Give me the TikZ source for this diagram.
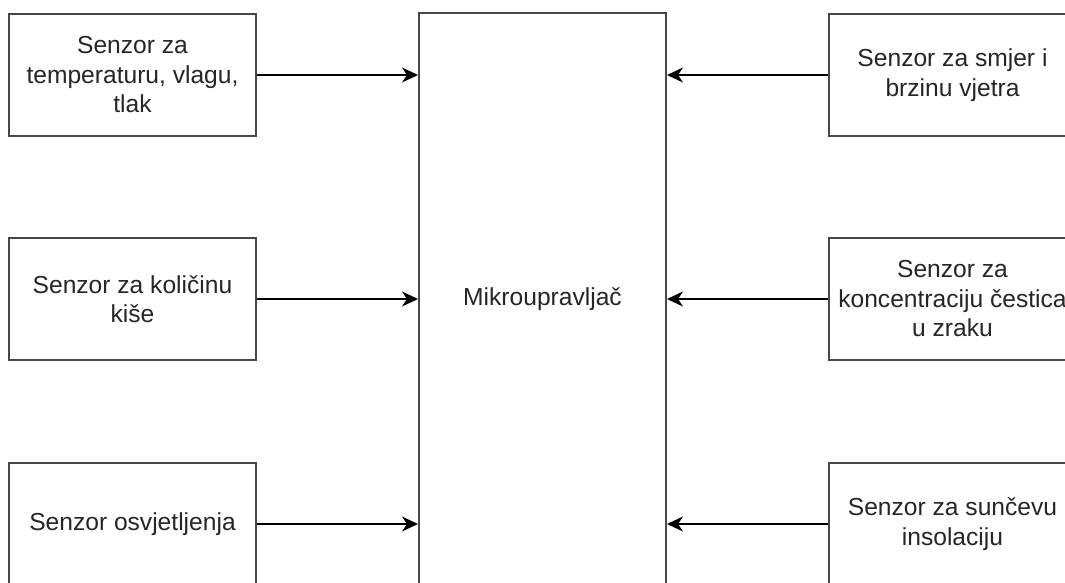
\documentclass[tikz,border=0pt]{standalone}
\usepackage{fontspec}
\setmainfont{Liberation Sans}
\usetikzlibrary{arrows.meta}
\begin{document}
\begin{tikzpicture}[x=1pt,y=-1pt,
  box/.style={draw=black!72,line width=2pt,fill=white,minimum width=247pt,minimum height=122pt,inner sep=0pt,align=center,text=black!85,font=\fontsize{24.6}{29.5}\selectfont},
  arr/.style={draw=black,line width=1.6pt,-{Stealth[length=16pt,width=15pt,inset=5pt]}}]
\useasboundingbox (0,0) rectangle (1065,583);
\clip (0,0) rectangle (1065,583);
\node[box] (l1) at (132.5,75) {Senzor za\\temperaturu, vlagu,\\tlak};
\node[box] (l2) at (132.5,299) {Senzor za količinu\\kiše};
\node[box] (l3) at (132.5,524) {Senzor osvjetljenja};
\node[box,minimum height=573pt] (mc) at (542.5,299.5) {Mikroupravljač};
\node[box] (r1) at (952.5,75) {Senzor za smjer i\\brzinu vjetra};
\node[box] (r2) at (952.5,299) {Senzor za\\koncentraciju čestica\\u zraku};
\node[box] (r3) at (952.5,524) {Senzor za sunčevu\\insolaciju};
\draw[arr] (l1.east) -- (l1.east -| mc.west);
\draw[arr] (l2.east) -- (l2.east -| mc.west);
\draw[arr] (l3.east) -- (l3.east -| mc.west);
\draw[arr] (r1.west) -- (r1.west -| mc.east);
\draw[arr] (r2.west) -- (r2.west -| mc.east);
\draw[arr] (r3.west) -- (r3.west -| mc.east);
\end{tikzpicture}
\end{document}
